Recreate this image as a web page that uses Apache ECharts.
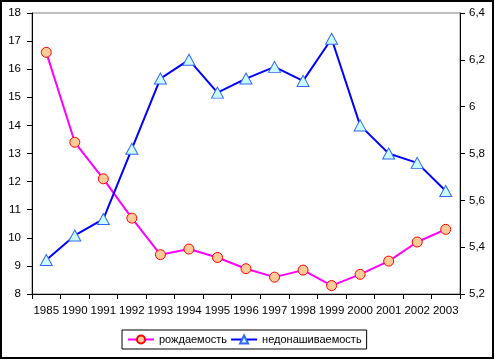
<!DOCTYPE html>
<html><head><meta charset="utf-8">
<script src="https://cdn.jsdelivr.net/npm/echarts@6/dist/echarts.min.js"></script>
<style>html,body{margin:0;padding:0;background:#fff}#c{width:495px;height:360px}</style>
</head><body><div id="c"></div>
<script>
const years = ['1985','1990','1991','1992','1993','1994','1995','1996','1997','1998','1999','2000','2001','2002','2003'];
const birthRate = [16.6,13.4,12.1,10.7,9.4,9.6,9.3,8.9,8.6,8.85,8.3,8.7,9.17,9.85,10.3];
const prematurity = [5.345,5.45,5.52,5.82,6.12,6.2,6.06,6.12,6.17,6.11,6.29,5.92,5.80,5.76,5.64];
const seriesNames = ['рождаемость','недонашиваемость'];
const FONT = '"Liberation Sans", Arial, sans-serif';
const chart = echarts.init(document.getElementById('c'));
const fmt = v => String(parseFloat(v.toFixed(1))).replace('.', ',');
chart.setOption({
  animation: false,
  textStyle: {fontFamily: FONT},
  grid: {left: 32, right: 35, top: 13, bottom: 66, show: true, borderColor: '#808080', borderWidth: 1},
  legend: {
    left: 122, top: 330, padding: [4, 5], itemWidth: 26, itemHeight: 10, itemGap: 3,
    borderColor: '#000', borderWidth: 1,
    textStyle: {fontFamily: FONT, fontSize: 11, color: '#000'},
    data: seriesNames
  },
  xAxis: {
    type: 'category', data: years, boundaryGap: true,
    axisLine: {lineStyle: {color: '#000', width: 1}},
    axisTick: {show: true, length: 5, lineStyle: {color: '#000'}},
    axisLabel: {interval: 0, color: '#000', fontSize: 11.5, margin: 11, fontFamily: FONT},
    splitLine: {show: false}
  },
  yAxis: [{
    type: 'value', min: 8, max: 18, interval: 1, position: 'left',
    axisLine: {show: true, lineStyle: {color: '#000'}},
    axisTick: {show: true, length: 5, lineStyle: {color: '#000'}},
    axisLabel: {color: '#000', fontSize: 11.5, margin: 11, fontFamily: FONT},
    splitLine: {show: false}
  }, {
    type: 'value', min: 5.2, max: 6.4, interval: 0.2, position: 'right',
    axisLine: {show: true, lineStyle: {color: '#000'}},
    axisTick: {show: true, length: 5, lineStyle: {color: '#000'}},
    axisLabel: {color: '#000', fontSize: 11.5, margin: 9, fontFamily: FONT, formatter: fmt},
    splitLine: {show: false}
  }],
  graphic: [{type: 'rect', shape: {x: 1, y: 1, width: 492, height: 357}, style: {fill: 'none', stroke: '#000', lineWidth: 2}, silent: true}],
  series: [{
    name: seriesNames[0], type: 'line', yAxisIndex: 0, data: birthRate,
    symbol: 'circle', symbolSize: 10,
    lineStyle: {color: '#FF00FF', width: 2},
    itemStyle: {color: '#FFCC99', borderColor: '#FF0000', borderWidth: 1},
    z: 3
  }, {
    name: seriesNames[1], type: 'line', yAxisIndex: 1, data: prematurity,
    symbol: 'triangle', symbolSize: [12, 11],
    lineStyle: {color: '#0000FF', width: 2},
    itemStyle: {color: '#CCFFFF', borderColor: '#3366FF', borderWidth: 1},
    z: 4
  }]
});
</script></body></html>
